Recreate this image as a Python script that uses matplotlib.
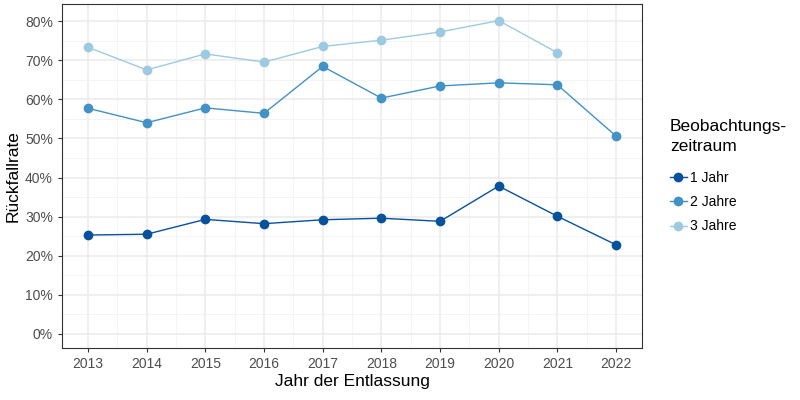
import matplotlib
matplotlib.use("Agg")
import matplotlib.pyplot as plt
from matplotlib.ticker import FuncFormatter, MultipleLocator
from matplotlib.lines import Line2D

plt.rcParams["font.family"] = ["Liberation Sans", "DejaVu Sans"]

years = [2013, 2014, 2015, 2016, 2017, 2018, 2019, 2020, 2021, 2022]
jahr1 = [25.3, 25.5, 29.3, 28.2, 29.2, 29.6, 28.8, 37.8, 30.1, 22.8]
jahr2 = [57.7, 54.0, 57.8, 56.4, 68.4, 60.3, 63.4, 64.2, 63.7, 50.6]
jahr3 = [73.3, 67.5, 71.6, 69.5, 73.5, 75.1, 77.2, 80.1, 71.9]
labels = ["1 Jahr", "2 Jahre", "3 Jahre"]
colors = ["#08519C", "#4292C6", "#9ECAE1"]

fig = plt.figure(figsize=(8, 4), dpi=100)
ax = fig.add_axes([0.0775, 0.13, 0.725, 0.86])

series = [(years, jahr1), (years, jahr2), (years[:len(jahr3)], jahr3)]
for (xs, ys), c in zip(series, colors):
    ax.plot(xs, ys, color=c, lw=1.0, marker="o", ms=6, mec=c, mfc=c, zorder=3)

ax.set_xlim(2012.557, 2022.443)
ax.set_ylim(-3.58, 84.35)
ax.set_xticks(years)
ax.xaxis.set_minor_locator(MultipleLocator(0.5))
ax.yaxis.set_major_locator(MultipleLocator(10))
ax.yaxis.set_minor_locator(MultipleLocator(5))
ax.yaxis.set_major_formatter(FuncFormatter(lambda v, p: f"{v:.0f}%"))

ax.grid(which="major", color="#EBEBEB", lw=1.1, zorder=0)
ax.grid(which="minor", color="#F2F2F2", lw=0.6, zorder=0)
ax.set_axisbelow(True)
for s in ax.spines.values():
    s.set_color("#333333")
    s.set_linewidth(0.8)
ax.tick_params(which="major", colors="#333333", labelcolor="#4D4D4D",
               labelsize=10, length=3, width=0.8)
ax.tick_params(which="minor", length=0)

ax.set_xlabel("Jahr der Entlassung", fontsize=12.5, labelpad=2)
ax.set_ylabel("Rückfallrate", fontsize=12.5, labelpad=3)

handles = [Line2D([], [], color=c, lw=1.0, marker="o", ms=6) for c in colors]
leg = fig.legend(handles, labels, title="Beobachtungs-\nzeitraum",
                 loc="center left", bbox_to_anchor=(0.822, 0.56),
                 frameon=False, fontsize=10, title_fontsize=12.5,
                 handlelength=1.2, handletextpad=0.2, labelspacing=0.75)
leg.get_title().set_linespacing(1.45)
leg._legend_box.align = "left"
leg._legend_box.sep = 12

fig.savefig("out.png", dpi=100)
